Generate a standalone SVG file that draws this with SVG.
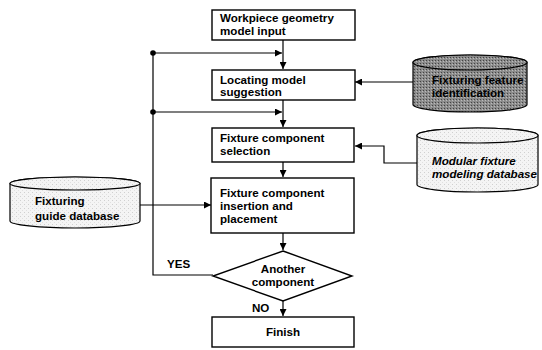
<svg xmlns="http://www.w3.org/2000/svg" width="542" height="350" viewBox="0 0 542 350">
<style>
.box{fill:#fff;stroke:#000;stroke-width:1.4}
.t{font-family:"Liberation Sans",Arial,sans-serif;font-size:11.6px;font-weight:bold;fill:#000}
.ln{fill:none;stroke:#000;stroke-width:1.2}
.cyl{stroke:#000;stroke-width:1.2}
</style>
<defs>
<marker id="ah" viewBox="0 0 10 10" refX="10" refY="5" markerWidth="7" markerHeight="7" markerUnits="userSpaceOnUse" orient="auto">
<path d="M0,0 L10,5 L0,10 z" fill="#000"/>
</marker>
<pattern id="dark" width="3" height="3" patternUnits="userSpaceOnUse">
<rect width="3" height="3" fill="#8c8c8c"/>
<rect width="1" height="1" fill="#444"/>
<rect x="2" y="1" width="1" height="1" fill="#bbb"/>
</pattern>
<pattern id="light" width="4" height="4" patternUnits="userSpaceOnUse">
<rect width="4" height="4" fill="#f4f4f4"/>
<rect width="1" height="1" fill="#d0d0d0"/>
<rect x="2" y="2" width="1" height="1" fill="#e0e0e0"/>
</pattern>
</defs>
<rect width="542" height="350" fill="#fff"/>

<g id="connectors">
<path class="ln" d="M283,40 V69" marker-end="url(#ah)"/>
<path class="ln" d="M153,53 H282" marker-end="url(#ah)"/>
<path class="ln" d="M283,100 V127" marker-end="url(#ah)"/>
<path class="ln" d="M153,112 H282" marker-end="url(#ah)"/>
<path class="ln" d="M283,162 V177" marker-end="url(#ah)"/>
<path class="ln" d="M283,233 V250" marker-end="url(#ah)"/>
<path class="ln" d="M283,301 V316" marker-end="url(#ah)"/>
<path class="ln" d="M413,82 H355" marker-end="url(#ah)"/>
<path class="ln" d="M417,163 H384 V146 H355" marker-end="url(#ah)"/>
<path class="ln" d="M140,205 H211" marker-end="url(#ah)"/>
<path class="ln" d="M213,275 H153 V53"/>
<circle cx="153" cy="53" r="2.8" fill="#000"/>
<circle cx="153" cy="112" r="2.8" fill="#000"/>
<text class="t" x="167" y="268">YES</text>
<text class="t" x="252" y="312">NO</text>
</g>

<g id="workpiece">
<rect class="box" x="212" y="10" width="143" height="30"/>
<text class="t" x="220" y="22">Workpiece geometry</text>
<text class="t" x="220" y="35">model input</text>
</g>

<g id="locating">
<rect class="box" x="212" y="70" width="143" height="30"/>
<text class="t" x="220" y="84">Locating model</text>
<text class="t" x="220" y="96">suggestion</text>
</g>

<g id="selection">
<rect class="box" x="212" y="128" width="142" height="34"/>
<text class="t" x="220" y="142">Fixture component</text>
<text class="t" x="220" y="155">selection</text>
</g>

<g id="insertion">
<rect class="box" x="211" y="178" width="143" height="55"/>
<text class="t" x="220" y="197">Fixture component</text>
<text class="t" x="220" y="210">insertion and</text>
<text class="t" x="220" y="223">placement</text>
</g>

<g id="another">
<polygon class="box" points="283,251 352,276 283,301 213,276"/>
<text class="t" x="283" y="273" text-anchor="middle">Another</text>
<text class="t" x="283" y="286" text-anchor="middle">component</text>
</g>

<g id="finish">
<rect class="box" x="212" y="317" width="142" height="30"/>
<text class="t" x="283" y="336" text-anchor="middle">Finish</text>
</g>

<g id="feature-db">
<path class="cyl" fill="url(#dark)" d="M413,62.5 V104.5 A57,7.5 0 0 0 527,104.5 V62.5 A57,7.5 0 0 0 413,62.5 z"/>
<ellipse class="cyl" fill="url(#dark)" cx="470" cy="62.5" rx="57" ry="7.5"/>
<text class="t" x="432" y="84" fill="#222">Fixturing feature</text>
<text class="t" x="432" y="97" fill="#222">identification</text>
</g>

<g id="modular-db">
<path class="cyl" fill="url(#light)" d="M417,135.5 V184.5 A60.5,7.5 0 0 0 538,184.5 V135.5 A60.5,7.5 0 0 0 417,135.5 z"/>
<ellipse class="cyl" fill="url(#light)" cx="477.5" cy="135.5" rx="60.5" ry="7.5"/>
<text class="t" x="432" y="165" font-style="italic">Modular fixture</text>
<text class="t" x="432" y="178" font-style="italic">modeling database</text>
</g>

<g id="guide-db">
<path class="cyl" fill="url(#light)" d="M10,183.5 V221 A65,7 0 0 0 140,221 V183.5 A65,6.5 0 0 0 10,183.5 z"/>
<ellipse class="cyl" fill="url(#light)" cx="75" cy="183.5" rx="65" ry="6.5"/>
<text class="t" x="35" y="205">Fixturing</text>
<text class="t" x="35" y="220">guide database</text>
</g>
</svg>
